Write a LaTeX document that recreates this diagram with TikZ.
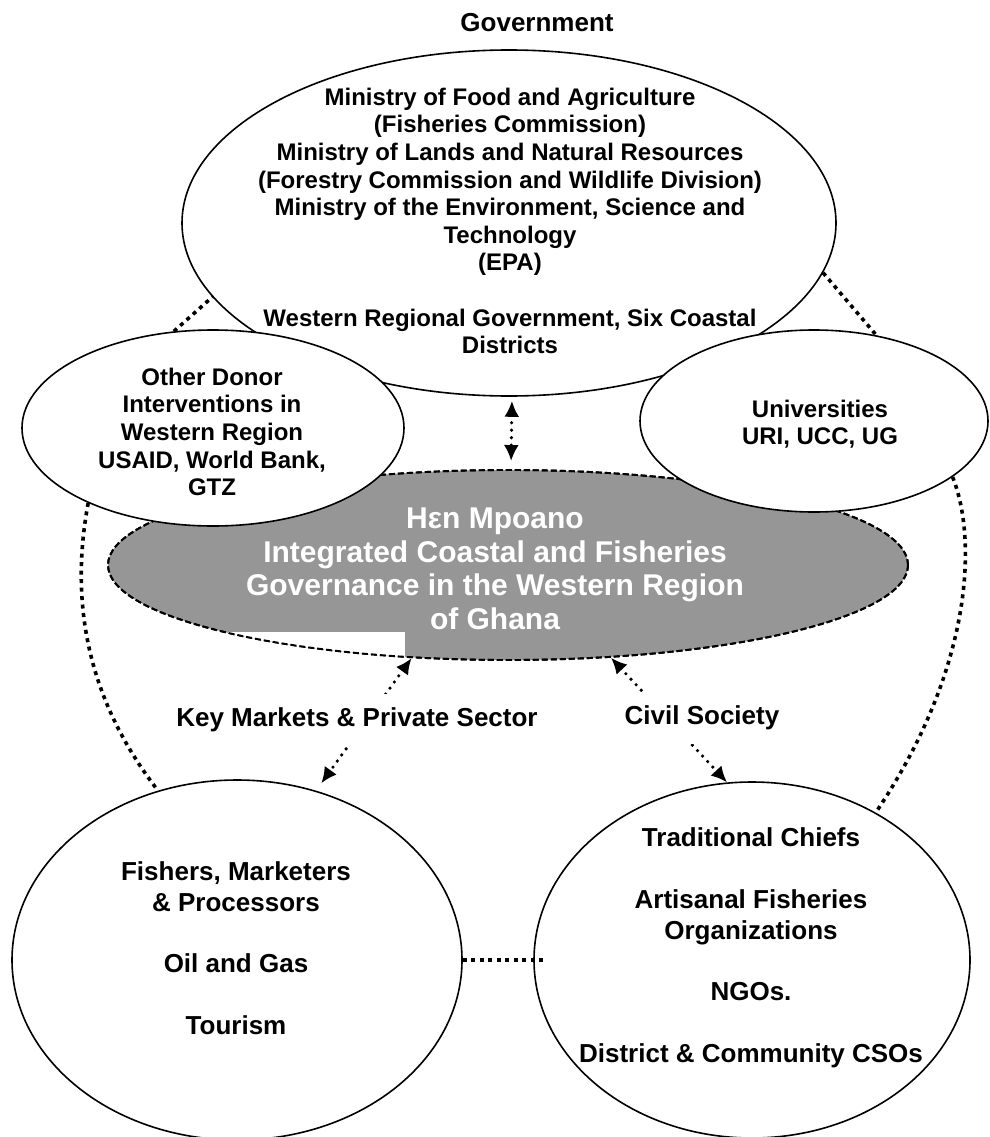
\documentclass[tikz,border=0pt]{standalone}
\usepackage{fontspec}
\setmainfont{Liberation Sans}
\usetikzlibrary{shapes.geometric,arrows.meta}
\definecolor{hubgray}{RGB}{150,150,150}
\begin{document}
\begin{tikzpicture}[x=1pt,y=-1pt,
  oval/.style={ellipse, draw=black, line width=1.6pt, fill=white, inner sep=0pt},
  hubline/.style={draw=black, line width=1.9pt, dash pattern=on 6pt off 3pt},
  hub/.style={ellipse, hubline, fill=hubgray, inner sep=0pt},
  txt/.style={align=center, inner sep=0pt},
  fmid/.style={font=\fontsize{24}{27.6}\selectfont\bfseries},
  fbig/.style={font=\fontsize{26}{30.8}\selectfont\bfseries},
  fhub/.style={font=\fontsize{30}{33.5}\selectfont\bfseries},
  lbl/.style={fill=white, inner xsep=3pt, inner ysep=0pt, minimum height=52pt, fbig},
  dotlink/.style={line width=3.6pt, dash pattern=on 4pt off 4.5pt},
  dotarrow/.style={line width=3.6pt, line cap=round, dash pattern=on 0pt off 7.5pt,
     arrows={Latex[length=16pt,width=15pt]-Latex[length=16pt,width=15pt]}}]
\useasboundingbox (0,0) rectangle (989,1137);
\fill[white] (0,0) rectangle (989,1137);

% ellipses (stacking order as in the reference)
\node[oval, minimum width=654, minimum height=346] (gov) at (509,223) {};
\node[hub, minimum width=800, minimum height=190] (cen) at (508,565) {};
\begin{scope}
  \clip (508,565) ellipse [x radius=400, y radius=95];
  \fill[white] (228,632) rectangle (405,700);
\end{scope}
\draw[hubline] (508,565) ellipse [x radius=400, y radius=95];
\node[oval, minimum width=382, minimum height=196] (donor) at (213,428) {};
\node[oval, minimum width=348, minimum height=182] (univ) at (814,421) {};
\node[oval, minimum width=450, minimum height=360] (bl) at (237,960) {};
\node[oval, minimum width=436, minimum height=356] (br) at (752,960) {};

% texts
\node[txt, fbig] (govtitle) at (537,23) {Government};
\node[txt, fmid] (govtext) at (510,221) {Ministry of Food and Agriculture\\(Fisheries Commission)\\Ministry of Lands and Natural Resources\\(Forestry Commission and Wildlife Division)\\Ministry of the Environment, Science and\\Technology\\(EPA)\\[27.6pt]Western Regional Government, Six Coastal\\Districts};
\node[txt, fmid] (donortext) at (212,432) {Other Donor\\Interventions in\\Western Region\\USAID, World Bank,\\GTZ};
\node[txt, fmid] (univtext) at (820,424) {Universities\\URI, UCC, UG};
\begin{scope}
  \clip (100,470) rectangle (920,631);
  \node[txt, fhub, text=white] (hubtext) at (495,569) {H\char"03B5 n Mpoano\\Integrated Coastal and Fisheries\\Governance in the Western Region\\of Ghana};
\end{scope}
\node[txt, fbig] (bltext) at (236,948) {Fishers, Marketers\\\& Processors\\[30.8pt]Oil and Gas\\[30.8pt]Tourism};
\node[txt, fbig] (brtext) at (751,948) {Traditional Chiefs\\[30.8pt]Artisanal Fisheries\\Organizations\\[30.8pt]NGOs.\\[30.8pt]District \& Community CSOs};

% dotted links
\draw[dotlink] (donor.112.6) -- (gov.194.1);
\draw[dotlink] (gov.-9.7) -- (univ.54.4);
\draw[dotlink] (donor.211) .. controls (72,590) and (80,690) .. (bl.115.8);
\draw[dotlink] (univ.-22) .. controls (978,540) and (972,670) .. (br.50.2);
\draw[dotlink] (bl.east) -- ([xshift=11pt]br.west);

% dotted arrows
\draw[dotarrow, shorten <=4pt, shorten >=8pt] ([xshift=3pt]gov.south) -- ([xshift=3pt]cen.north);
\draw[dotarrow, shorten >=9pt] (cen.224.4) -- (bl.65);
\draw[dotarrow] (cen.-42.1) -- (br.98.1);

% arrow labels
\node[lbl] (kmlabel) at (357,720) {Key Markets \& Private Sector};
\node[lbl] (cslabel) at (702,718) {Civil Society};
\end{tikzpicture}
\end{document}
